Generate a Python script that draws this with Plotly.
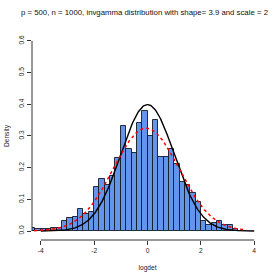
import numpy as np
import plotly.graph_objects as go

# ---- data ----
bin_start = -4.4
bin_width = 0.2
density = [0.01, 0.005, 0.005, 0.005, 0.01, 0.01, 0.03, 0.04, 0.045, 0.07,
           0.055, 0.06, 0.14, 0.165, 0.145, 0.175, 0.23, 0.33, 0.26, 0.245,
           0.34, 0.38, 0.30, 0.35, 0.235, 0.235, 0.26, 0.21, 0.155, 0.145,
           0.12, 0.09, 0.03, 0.02, 0.025, 0.03, 0.02, 0.02, 0.005]
x_ticks = [-4, -2, 0, 2, 4]
y_ticks = [0.0, 0.1, 0.2, 0.3, 0.4, 0.5, 0.6]
y_tick_text = ["0.0", "0.1", "0.2", "0.3", "0.4", "0.5", "0.6"]
# reference density N(0,1) and fitted normal
std_mean, std_sd, std_from, std_to = 0.0, 1.0, -4.0, 4.0
fit_mean, fit_sd, fit_from, fit_to = -0.05, 1.23, -4.25, 3.7
title = "p = 500, n = 1000, invgamma distribution with shape= 3.9 and scale = 2"

centers = [bin_start + bin_width * (i + 0.5) for i in range(len(density))]


def dnorm(x, m, s):
    return np.exp(-0.5 * ((x - m) / s) ** 2) / (s * np.sqrt(2 * np.pi))


xs_std = np.linspace(std_from, std_to, 300)
xs_fit = np.linspace(fit_from, fit_to, 300)

FONT = "Liberation Sans, Arial, sans-serif"

fig = go.Figure()
fig.add_trace(go.Bar(x=centers, y=density, width=bin_width,
                     marker=dict(color="#6495ED",
                                 line=dict(color="rgba(20,25,40,0.9)", width=1)),
                     hoverinfo="skip"))
fig.add_trace(go.Scatter(x=xs_std, y=dnorm(xs_std, std_mean, std_sd), mode="lines",
                         line=dict(color="black", width=1.4)))
fig.add_trace(go.Scatter(x=xs_fit, y=dnorm(xs_fit, fit_mean, fit_sd), mode="lines",
                         line=dict(color="#ff0000", width=1.5, dash="3px,3px")))

axis_col = "#333333"
fig.add_shape(type="line", xref="x", yref="paper", x0=x_ticks[0], x1=x_ticks[-1],
              y0=0, y1=0, line=dict(color=axis_col, width=1))
fig.add_shape(type="line", xref="paper", yref="y", x0=0, x1=0,
              y0=y_ticks[0], y1=y_ticks[-1], line=dict(color=axis_col, width=1))

fig.update_layout(
    width=280, height=280,
    margin=dict(l=32, r=17, t=32, b=40, autoexpand=False),
    paper_bgcolor="white", plot_bgcolor="white",
    showlegend=False, bargap=0,
    font=dict(family=FONT, size=6.6, color="#222222"),
    title=dict(text=title, x=0.516, xanchor="center", y=0.957, yanchor="middle",
               font=dict(family=FONT, size=7.8, color="#111111")),
    xaxis=dict(range=[-4.33, 4.33], tickvals=x_ticks, ticktext=[str(v) for v in x_ticks],
               showgrid=False, zeroline=False, showline=False, automargin=False,
               ticks="outside", ticklen=4, tickcolor=axis_col, tickwidth=1,
               title=dict(text="logdet", standoff=12, font=dict(size=6.6))),
    yaxis=dict(range=[-0.0284, 0.628], tickvals=y_ticks, ticktext=y_tick_text,
               tickangle=-90, automargin=False,
               showgrid=False, zeroline=False, showline=False,
               ticks="outside", ticklen=4, tickcolor=axis_col, tickwidth=1,
               title=dict(text="Density", standoff=8, font=dict(size=6.6))),
)

fig.write_html("out.html", config={"displayModeBar": False},
               post_script="document.body.style.margin='0';document.body.style.padding='0';")
